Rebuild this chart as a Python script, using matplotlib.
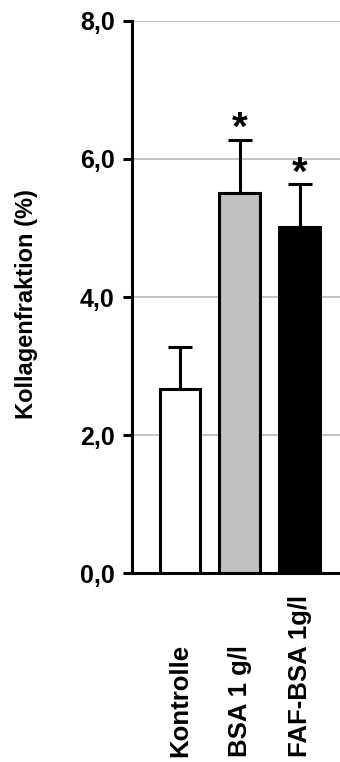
import matplotlib
matplotlib.use("Agg")
import matplotlib.pyplot as plt
import matplotlib.transforms as mtransforms

# Kollagenfraktion data (mean + SD)
categories = ["Kontrolle", "BSA 1 g/l", "FAF-BSA 1g/l"]
means = [2.67, 5.51, 5.02]
sd = [0.61, 0.77, 0.61]
significant = [False, True, True]
bar_colors = ["white", "#c0c0c0", "black"]
yticks = [0, 2, 4, 6, 8]
ytick_labels = ["0,0", "2,0", "4,0", "6,0", "8,0"]

plt.rcParams["font.family"] = ["Liberation Sans", "DejaVu Sans"]
plt.rcParams["font.weight"] = "bold"

fig = plt.figure(figsize=(3.4, 7.62), dpi=100)
ax = fig.add_axes([0.388, 0.2476, 0.612, 0.7252])

lw = 2.2
x = list(range(len(categories)))

ax.yaxis.grid(True, color="#c4c4c4", linewidth=1.4, zorder=0)
ax.set_axisbelow(True)

ax.bar(x, means, width=0.68, color=bar_colors, edgecolor="black",
       linewidth=lw, zorder=3)
ax.errorbar(x, means, yerr=[[0] * len(sd), sd], fmt="none", ecolor="black",
            elinewidth=lw, capsize=8.5, capthick=lw, zorder=2)

for xi, m, s, sig in zip(x, means, sd, significant):
    if sig:
        ax.annotate("*", xy=(xi, m + s), xytext=(0, 0), textcoords="offset points",
                    ha="center", va="baseline", fontsize=29, fontweight="bold")

ax.set_ylim(0, 8)
ax.set_xlim(-0.8, 2.67)
ax.set_yticks(yticks)
ax.set_yticklabels(ytick_labels, fontsize=18, fontweight="bold")
ax.set_xticks([])

for side in ["top", "right"]:
    ax.spines[side].set_visible(False)
for side in ["left", "bottom"]:
    ax.spines[side].set_linewidth(lw)
ax.tick_params(axis="y", direction="out", length=6.5, width=lw, pad=6)

ax.set_ylabel("Kollagenfraktion (%)", fontsize=17, fontweight="bold",
              ha="center", va="center")
ax.yaxis.set_label_coords(-0.505, 0.487)

# Category labels, rotated and anchored near the bottom of the figure
trans = mtransforms.blended_transform_factory(ax.transData, fig.transFigure)
for xi, name in zip(x, categories):
    ax.text(xi, 0.007, name, transform=trans, rotation=90, ha="center",
            va="bottom", fontsize=18.5, fontweight="bold")

fig.savefig("out.png", dpi=100)
